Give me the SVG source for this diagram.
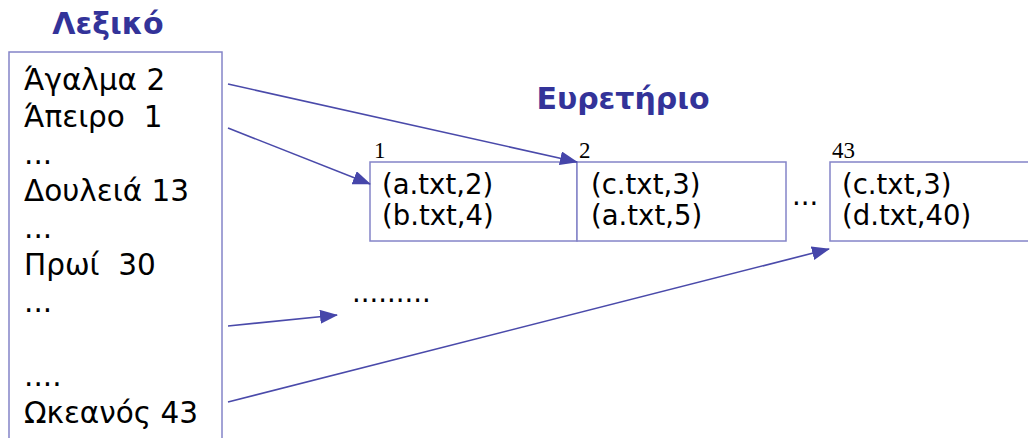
<svg xmlns="http://www.w3.org/2000/svg" width="1028" height="438" viewBox="0 0 1028 438">
<style>
.title{font-family:"DejaVu Sans",Verdana,sans-serif;font-weight:bold;font-size:30px;fill:#333399}
.lst{font-family:"DejaVu Sans",Verdana,sans-serif;font-size:29.5px;fill:#000}
.cell{font-family:"DejaVu Sans",Verdana,sans-serif;font-size:27.5px;fill:#000}
.num{font-family:"Liberation Serif","Times New Roman",serif;font-size:23px;fill:#000}
.box{fill:#fff;stroke:#8484c8;stroke-width:1.5}
.conn{stroke:#4a4aaa;stroke-width:1.6;fill:none;marker-end:url(#ah)}
</style>
<defs>
<marker id="ah" markerUnits="userSpaceOnUse" markerWidth="18" markerHeight="14" viewBox="0 0 18 14" refX="17" refY="7" orient="auto">
<path d="M0,0 L18,7 L0,14 Z" fill="#4646aa"/>
</marker>
</defs>
<rect width="1028" height="438" fill="#fff"/>
<g id="lexiko">
<text class="title" x="108" y="34" text-anchor="middle">Λεξικό</text>
<rect class="box" x="9" y="52" width="213" height="400"/>
<text class="lst" x="24" y="90">Άγαλμα 2</text>
<text class="lst" x="24" y="127" xml:space="preserve">Άπειρο  1</text>
<text class="lst" x="24" y="164">...</text>
<text class="lst" x="24" y="201">Δουλειά 13</text>
<text class="lst" x="24" y="238">...</text>
<text class="lst" x="24" y="275" xml:space="preserve">Πρωί  30</text>
<text class="lst" x="24" y="312">...</text>
<text class="lst" x="24" y="386">....</text>
<text class="lst" x="24" y="423">Ωκεανός 43</text>
</g>
<g id="eurethrio-title">
<text class="title" x="623" y="109" text-anchor="middle">Ευρετήριο</text>
</g>
<g id="cell1">
<rect class="box" x="370" y="162" width="207" height="79"/>
<text class="num" x="374" y="158">1</text>
<text class="cell" x="382" y="194">(a.txt,2)</text>
<text class="cell" x="382" y="225">(b.txt,4)</text>
</g>
<g id="cell2">
<rect class="box" x="577" y="162" width="209" height="79"/>
<text class="num" x="579" y="158">2</text>
<text class="cell" x="591" y="194">(c.txt,3)</text>
<text class="cell" x="591" y="225">(a.txt,5)</text>
</g>
<g id="ellipsis">
<text class="cell" x="792" y="205">...</text>
<text class="cell" x="352" y="302">.........</text>
</g>
<g id="cell43">
<rect class="box" x="830" y="162" width="220" height="79"/>
<text class="num" x="832" y="158">43</text>
<text class="cell" x="842" y="194">(c.txt,3)</text>
<text class="cell" x="842" y="225">(d.txt,40)</text>
</g>
<g id="connectors">
<line class="conn" x1="228" y1="84" x2="577" y2="162"/>
<line class="conn" x1="228" y1="128" x2="370" y2="184"/>
<line class="conn" x1="228" y1="326" x2="337" y2="315"/>
<line class="conn" x1="228" y1="402" x2="829" y2="249"/>
</g>
</svg>
